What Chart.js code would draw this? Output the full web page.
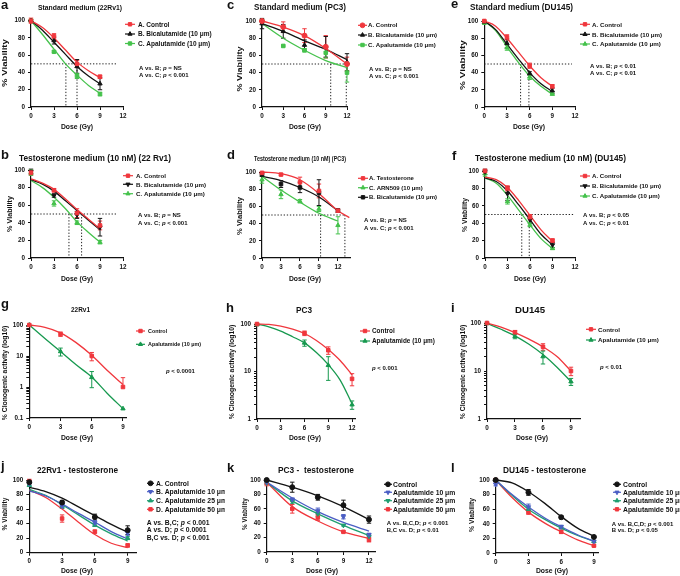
<!DOCTYPE html>
<html><head><meta charset="utf-8">
<script src="https://cdn.jsdelivr.net/npm/chart.js@4.4.1/dist/chart.umd.min.js"></script>
<style>
html,body{margin:0;padding:0;background:#fff;}
#fig{position:relative;width:680px;height:576px;overflow:hidden;background:#fff;}
#fig canvas{position:absolute;}
</style></head><body><div id="fig"></div>
<script>
// ---------- shared axis values ----------
const dose9 = [0, 3, 6, 9];
const dose12 = [0, 3, 6, 9, 12];
const doseH = [0, 6, 9, 12];
const fitX9 = [0, 1.5, 3, 4.5, 6, 7.5, 9];
const fitX12 = [0, 3, 6, 9, 12];
const fitX12h = [0, 1.5, 3, 4.5, 6, 7.5, 9, 10.5, 12];
const fitXdRed = [0, 3, 6, 9, 12, 13.8];
const ticks9 = [0, 3, 6, 9];
const ticks12 = [0, 3, 6, 9, 12];
const ticksV = [0, 20, 40, 60, 80, 100];
const decadesG = [0.1, 1, 10, 100];
const decadesHI = [1, 10, 100];

// ---------- a: Standard medium (22Rv1) ----------
const a_ctrl = [100, 82, 50, 35], a_ctrl_err = [3, 3, 4, 2];
const a_bica = [100, 77, 47, 27], a_bica_err = [1, 4, 8, 7];
const a_apal = [100, 64, 36, 15], a_apal_err = [1, 1, 3, 2];
const a_ctrl_fit = [100, 92, 80, 66, 52, 42, 34];
const a_bica_fit = [100, 89, 75, 61, 47, 36, 27];
const a_apal_fit = [100, 84, 67, 50, 37, 25, 16];
const a_ic50 = [4.55, 6.0];

// ---------- b: Testosterone medium (22Rv1) ----------
const b_ctrl = [97, 77, 51, 37], b_ctrl_err = [3, 2, 5, 5];
const b_bica = [98, 71, 49, 35], b_bica_err = [3, 2, 4, 10];
const b_apal = [97, 62, 40, 18], b_apal_err = [3, 3, 2, 2];
const b_ctrl_fit = [90, 85, 78, 67, 55, 44, 33];
const b_bica_fit = [89, 84, 76, 65, 54, 43, 32];
const b_apal_fit = [88, 80, 69, 56, 41, 29, 18];
const b_ic50 = [4.95, 6.6];

// ---------- c: Standard medium (PC3) ----------
const c_ctrl = [100, 93, 83, 70, 50], c_ctrl_err = [1, 6, 8, 13, 8];
const c_bica = [97, 88, 72, 70, 52], c_bica_err = [6, 8, 6, 12, 10];
const c_apal = [100, 71, 66, 63, 40], c_apal_err = [1, 1, 2, 6, 11];
const c_ctrl_fit = [100, 93, 83, 68, 50];
const c_bica_fit = [97, 88, 77, 67, 55];
const c_apal_fit = [97, 80, 66, 54, 46];
const c_ic50 = [9.7, 11.9];

// ---------- d: Testosterone medium (PC3) ----------
const d_ctrl = [99, 97, 88, 78, 55], d_ctrl_err = [1, 1, 6, 8, 2];
const d_arn = [91, 74, 66, 57, 38], d_arn_err = [4, 5, 2, 3, 10];
const d_bica = [97, 86, 82, 76, 55], d_bica_err = [2, 4, 6, 15, 2];
const d_ctrl_fit = [100, 98, 91, 75, 55, 47];
const d_arn_fit = [95, 79, 65, 52, 43];
const d_bica_fit = [95, 90, 82, 71, 55];
const d_ic50 = [9.26, 13.1];

// ---------- e: Standard medium (DU145) ----------
const e_ctrl = [100, 81, 48, 24], e_ctrl_err = [1, 3, 3, 2];
const e_bica = [99, 74, 39, 19], e_bica_err = [1, 5, 2, 3];
const e_apal = [98, 69, 35, 15], e_apal_err = [2, 3, 3, 1];
const e_ctrl_fit = [100, 94, 80, 64, 48, 34, 24];
const e_bica_fit = [100, 90, 73, 56, 40, 27, 18];
const e_apal_fit = [100, 89, 70, 52, 36, 24, 15];
const e_ic50 = [4.8, 5.9];

// ---------- f: Testosterone medium (DU145) ----------
const f_ctrl = [100, 80, 47, 20], f_ctrl_err = [2, 3, 3, 2];
const f_bica = [99, 74, 44, 15], f_bica_err = [3, 8, 4, 3];
const f_apal = [97, 65, 38, 11], f_apal_err = [3, 3, 2, 1];
const f_ctrl_fit = [93, 90, 81, 66, 49, 32, 19];
const f_bica_fit = [92, 88, 77, 61, 44, 27, 15];
const f_apal_fit = [92, 86, 72, 55, 38, 22, 11];
const f_ic50 = [4.9, 5.9];

// ---------- g: clonogenic 22Rv1 ----------
const g_ctrl = [100, 51, 10, 1], g_ctrl_err = [0, 8, 3, 1];
const g_apal = [100, 14, 2.05, 0.2], g_apal_err = [0, 4, 1.1, 0];
const g_ctrl_fit = [100, 84, 56, 27, 10.5, 3.4, 1.2];
const g_apal_fit = [100, 37, 14, 5.2, 2.1, 0.62, 0.2];

// ---------- h: clonogenic PC3 ----------
const h_ctrl = [100, 64, 28, 7], h_ctrl_err = [3, 7, 5, 2];
const h_apal = [97, 40, 13.5, 2], h_apal_err = [2, 6, 7, 0.4];
const h_ctrl_fit = [100, 98, 90, 78, 63, 45, 29, 17, 8.5];
const h_apal_fit = [100, 87, 71, 54, 40, 25, 14, 6.6, 2.1];

// ---------- i: clonogenic DU145 ----------
const i_ctrl = [100, 64, 32, 10], i_ctrl_err = [3, 6, 5, 2];
const i_apal = [98, 53, 20, 6], i_apal_err = [2, 6, 6, 1];
const i_ctrl_fit = [100, 82, 63, 46, 32, 20, 10];
const i_apal_fit = [98, 74, 54, 36, 22, 12, 6];

// ---------- j: 22Rv1 - testosterone ----------
const j_ctrl = [97, 69, 49, 31], j_ctrl_err = [2, 3, 4, 6];
const j_a10 = [95, 64, 41, 27], j_a10_err = [2, 3, 3, 3];
const j_a25 = [93, 64, 38, 20], j_a25_err = [2, 3, 2, 2];
const j_a50 = [98, 47, 29, 10], j_a50_err = [3, 5, 2, 2];
const j_ctrl_fit = [90, 84, 75, 63, 51, 39, 28];
const j_a10_fit = [85, 78, 67, 54, 42, 29, 19];
const j_a25_fit = [87, 79, 66, 52, 38, 26, 16];
const j_a50_fit = [86, 76, 60, 42, 25, 13, 7];

// ---------- k: PC3 - testosterone ----------
const k_ctrl = [100, 90, 76, 65, 45], k_ctrl_err = [1, 7, 4, 7, 5];
const k_a10 = [97, 73, 57, 49, 24], k_a10_err = [2, 2, 4, 3, 2];
const k_a25 = [96, 70, 53, 37, 22], k_a25_err = [2, 3, 3, 1, 1];
const k_a50 = [96, 60, 48, 28, 17], k_a50_err = [4, 6, 4, 1, 3];
const k_ctrl_fit = [100, 90, 78, 63, 45];
const k_a10_fit = [97, 75, 56, 41, 29];
const k_a25_fit = [97, 71, 53, 37, 23];
const k_a50_fit = [97, 63, 43, 28, 19];

// ---------- l: DU145 - testosterone ----------
const l_ctrl = [100, 83, 49, 22], l_ctrl_err = [1, 4, 2, 1];
const l_a10 = [94, 63, 36, 16], l_a10_err = [2, 4, 2, 1];
const l_a25 = [100, 60, 35, 16], l_a25_err = [1, 2, 2, 1];
const l_a50 = [100, 56, 29, 10], l_a50_err = [2, 3, 2, 1];
const l_ctrl_fit = [100, 96, 84, 68, 50, 34, 23];
const l_a10_fit = [100, 80, 63, 48, 36, 25, 16];
const l_a25_fit = [100, 79, 60, 46, 34, 24, 16];
const l_a50_fit = [100, 76, 56, 41, 29, 18, 10];

// ---------- labels ----------
const legABC = ['A. Control', 'B. Bicalutamide (10 \u03bcm)', 'C. Apalutamide (10 \u03bcm)'];
const legD = ['A. Testosterone', 'C. ARN509 (10 \u03bcm)', 'B. Bicalutamide (10 \u03bcm)'];
const legClono = ['Control', 'Apalutamide (10 \u03bcm)'];
const legJ = ['A. Control', 'B. Apalutamide 10 \u03bcm', 'C. Apalutamide 25 \u03bcm', 'D. Apalutamide 50 \u03bcm'];
const legKL = ['Control', 'Apalutamide 10 \u03bcm', 'Apalutamide 25 \u03bcm', 'Apalutamide 50 \u03bcm'];

// ---------- styling ----------
const FONT = '"Liberation Sans", Arial, Helvetica, sans-serif';
const RED = '#f0373d', GRN = '#45c24c', DGRN = '#17994f', TGRN = '#1f9e70', BLUE = '#4b5ec4', BLK = '#141414';

function S(label, color, style, rot, x, y, err, fx, fy) { return {label, color, style, rot, x, y, err, fx, fy}; }

const panels = [
 {id:'a', box:[0,0,225,135], area:[31,20.7,123,107], xmax:12, xticks:ticks12,
  letter:{t:'a',x:1,y:8.5}, title:{t:'Standard medium (22Rv1)',x:38,y:9.8,w:84,size:8},
  ylab:{t:'% Viability',x:5,y:63,size:9.6,sx:0.8}, xlab:{x:77,y:129},
  legend:{x:125,len:10,tx:138,ys:[24.3,34,43.5],size:6.5},
  annot:{x:139,ys:[70,77],size:6,lines:['A vs. B; *p* = NS','A vs. C; *p* < 0.001']},
  guide:{end:11.2,xs:a_ic50},
  series:[S(legABC[0],RED,'rect',0,dose9,a_ctrl,a_ctrl_err,fitX9,a_ctrl_fit),
          S(legABC[1],BLK,'triangle',0,dose9,a_bica,a_bica_err,fitX9,a_bica_fit),
          S(legABC[2],GRN,'rect',0,dose9,a_apal,a_apal_err,fitX9,a_apal_fit)]},
 {id:'b', box:[0,135,225,150], area:[31,170,123,258], xmax:12, xticks:ticks12,
  letter:{t:'b',x:1,y:159}, title:{t:'Testosterone medium (10 nM) (22 Rv1)',x:19,y:160.5,w:152,size:8.5},
  ylab:{t:'% Viability',x:10,y:214,size:7.2,sx:1}, xlab:{x:77,y:281},
  legend:{x:123,len:10,tx:136,ys:[175.7,184.3,193.7],size:6.2},
  annot:{x:138,ys:[217,224.5],size:6,lines:['A vs. B; *p* = NS','A vs. C; *p* < 0.001']},
  guide:{end:11.2,xs:b_ic50},
  series:[S(legABC[0],RED,'rect',0,dose9,b_ctrl,b_ctrl_err,fitX9,b_ctrl_fit),
          S(legABC[1],BLK,'triangle',180,dose9,b_bica,b_bica_err,fitX9,b_bica_fit),
          S(legABC[2],GRN,'triangle',0,dose9,b_apal,b_apal_err,fitX9,b_apal_fit)]},
 {id:'c', box:[225,0,225,135], area:[262,21,347,107], xmax:12, xticks:ticks12,
  letter:{t:'c',x:227,y:8.5}, title:{t:'Standard medium (PC3)',x:254,y:10,w:92,size:8.2},
  ylab:{t:'% Viability',x:240,y:69,size:9,sx:0.8}, xlab:{x:305,y:129},
  legend:{x:358,len:9,tx:368,ys:[25.3,35,45],size:6.1},
  annot:{x:369,ys:[71,78],size:6,lines:['A vs. B; *p* = NS','A vs. C; *p* < 0.001']},
  guide:{end:11.7,xs:c_ic50},
  series:[S(legABC[0],RED,'circle',0,dose12,c_ctrl,c_ctrl_err,fitX12,c_ctrl_fit),
          S(legABC[1],BLK,'triangle',0,dose12,c_bica,c_bica_err,fitX12,c_bica_fit),
          S(legABC[2],GRN,'rect',0,dose12,c_apal,c_apal_err,fitX12,c_apal_fit)]},
 {id:'d', box:[225,135,225,150], area:[262,172,350.6,258], xmax:14, xticks:ticks12,
  letter:{t:'d',x:227,y:159}, title:{t:'Testosterone medium (10 nM) (PC3)',x:254,y:160.5,w:92,size:6.6},
  ylab:{t:'% Viability',x:240,y:216,size:7.6,sx:1}, xlab:{x:305,y:281},
  legend:{x:358,len:10,tx:369,ys:[178.3,187.7,197.3],size:6.0},
  annot:{x:364,ys:[222,229.7],size:6,lines:['A vs. B; *p* = NS','A vs. C; *p* < 0.001']},
  guide:{end:13.1,xs:d_ic50},
  series:[S(legD[0],RED,'rect',0,dose12,d_ctrl,d_ctrl_err,fitXdRed,d_ctrl_fit),
          S(legD[1],GRN,'triangle',0,dose12,d_arn,d_arn_err,fitX12,d_arn_fit),
          S(legD[2],BLK,'rect',0,dose12,d_bica,d_bica_err,fitX12,d_bica_fit)]},
 {id:'e', box:[450,0,230,135], area:[484.3,21,575,107], xmax:12, xticks:ticks12,
  letter:{t:'e',x:451,y:7.5}, title:{t:'Standard medium (DU145)',x:470,y:10,w:103,size:8.5},
  ylab:{t:'% Viability',x:463,y:65,size:10,sx:0.75}, xlab:{x:529,y:129},
  legend:{x:580,len:10,tx:592,ys:[24.3,34.3,44],size:6.2},
  annot:{x:590,ys:[68,75],size:6,lines:['A vs. B; *p* < 0.01','A vs. C; *p* < 0.01']},
  guide:{end:11.6,xs:e_ic50},
  series:[S(legABC[0],RED,'rect',0,dose9,e_ctrl,e_ctrl_err,fitX9,e_ctrl_fit),
          S(legABC[1],BLK,'triangle',0,dose9,e_bica,e_bica_err,fitX9,e_bica_fit),
          S(legABC[2],GRN,'triangle',0,dose9,e_apal,e_apal_err,fitX9,e_apal_fit)]},
 {id:'f', box:[450,135,230,150], area:[485,171,575,258], xmax:12, xticks:ticks12,
  letter:{t:'f',x:452,y:160}, title:{t:'Testosterone medium (10 nM) (DU145)',x:475,y:160.5,w:151,size:8.3},
  ylab:{t:'% Viability',x:465,y:215,size:6.8,sx:1}, xlab:{x:530,y:281},
  legend:{x:580,len:10,tx:592,ys:[176,186,196],size:6.1},
  annot:{x:583,ys:[217,225],size:6,lines:['A vs. B; *p* < 0.05','A vs. C; *p* < 0.01']},
  guide:{end:11.8,xs:f_ic50},
  series:[S(legABC[0],RED,'rect',0,dose9,f_ctrl,f_ctrl_err,fitX9,f_ctrl_fit),
          S(legABC[1],BLK,'triangle',180,dose9,f_bica,f_bica_err,fitX9,f_bica_fit),
          S(legABC[2],GRN,'triangle',0,dose9,f_apal,f_apal_err,fitX9,f_apal_fit)]},
 {id:'g', box:[0,285,225,160], area:[29.3,325,126.1,418], xmax:9.3, xticks:ticks9, log:decadesG,
  letter:{t:'g',x:1,y:308}, title:{t:'22Rv1',x:71,y:312,w:19,size:7.2},
  ylab:{t:'% Clonogenic activity (log10)',x:5,y:373,size:6.8,sx:1}, xlab:{x:77,y:440},
  legend:{x:136,len:9,tx:148,ys:[331,344.3],size:5.4},
  annot:{x:166,ys:[373],size:6,lines:['*p* < 0.0001']},
  series:[S(legClono[0],RED,'rect',0,dose9,g_ctrl,g_ctrl_err,fitX9,g_ctrl_fit),
          S(legClono[1],DGRN,'triangle',0,dose9,g_apal,g_apal_err,fitX9,g_apal_fit)]},
 {id:'h', box:[225,285,225,160], area:[257,324,355.2,419], xmax:12.4, xticks:ticks12, log:decadesHI,
  letter:{t:'h',x:226,y:311.5}, title:{t:'PC3',x:296,y:313,w:16,size:8.3},
  ylab:{t:'% Clonogenic activity (log10)',x:232,y:372,size:6.8,sx:1}, xlab:{x:305,y:440},
  legend:{x:360,len:10,tx:372,ys:[331,341],size:6.4},
  annot:{x:372,ys:[369.5],size:6,lines:['*p* < 0.001']},
  series:[S(legClono[0],RED,'rect',0,doseH,h_ctrl,h_ctrl_err,fitX12h,h_ctrl_fit),
          S(legClono[1],DGRN,'triangle',0,doseH,h_apal,h_apal_err,fitX12h,h_apal_fit)]},
 {id:'i', box:[450,285,230,160], area:[487,323,580.3,419], xmax:10, xticks:ticks9, log:decadesHI,
  letter:{t:'i',x:451,y:311.5}, title:{t:'DU145',x:515,y:313,w:30,size:9},
  ylab:{t:'% Clonogenic activity (log10)',x:463,y:372,size:6.8,sx:1}, xlab:{x:532,y:440},
  legend:{x:586,len:10,tx:598,ys:[329.3,340],size:6.2},
  annot:{x:600,ys:[369],size:6,lines:['*p* < 0.01']},
  series:[S(legClono[0],RED,'rect',0,dose9,i_ctrl,i_ctrl_err,fitX9,i_ctrl_fit),
          S(legClono[1],DGRN,'triangle',0,dose9,i_apal,i_apal_err,fitX9,i_apal_fit)]},
 {id:'j', box:[0,445,225,131], area:[29.3,480,136.4,552.7], xmax:9.8, xticks:ticks9,
  letter:{t:'j',x:1,y:470}, title:{t:'22Rv1 - testosterone',x:37,y:473,w:81,size:8.3},
  ylab:{t:'% Viability',x:5,y:514,size:6.6,sx:1}, xlab:{x:77,y:573},
  legend:{x:147,len:7,tx:156,ys:[483.3,491.7,500.7,509.3],size:6.8},
  annot:{x:146.7,ys:[525,532,539.5],size:6.8,lines:['A vs. B,C; *p* < 0.001','A vs. D; *p* < 0.0001','B,C vs. D; *p* < 0.001']},
  series:[S(legJ[0],BLK,'circle',0,dose9,j_ctrl,j_ctrl_err,fitX9,j_ctrl_fit),
          S(legJ[1],BLUE,'triangle',180,dose9,j_a10,j_a10_err,fitX9,j_a10_fit),
          S(legJ[2],TGRN,'triangle',0,dose9,j_a25,j_a25_err,fitX9,j_a25_fit),
          S(legJ[3],RED,'rect',0,dose9,j_a50,j_a50_err,fitX9,j_a50_fit)]},
 {id:'k', box:[225,445,235,131], area:[266.7,480,375.8,552], xmax:12.8, xticks:ticks12,
  letter:{t:'k',x:227,y:471.5}, title:{t:'PC3 -  testosterone',x:278,y:473,w:76,size:8.3},
  ylab:{t:'% Viability',x:245,y:514,size:6.4,sx:1}, xlab:{x:322,y:573},
  legend:{x:384,len:8,tx:393,ys:[484.3,492.3,500.7,509.3],size:6.8},
  annot:{x:386.7,ys:[525,532],size:6,lines:['A vs. B,C,D; *p* < 0.001','B,C vs. D; *p* < 0.01']},
  series:[S(legKL[0],BLK,'circle',0,dose12,k_ctrl,k_ctrl_err,fitX12,k_ctrl_fit),
          S(legKL[1],BLUE,'triangle',180,dose12,k_a10,k_a10_err,fitX12,k_a10_fit),
          S(legKL[2],TGRN,'triangle',180,dose12,k_a25,k_a25_err,fitX12,k_a25_fit),
          S(legKL[3],RED,'rect',0,dose12,k_a50,k_a50_err,fitX12,k_a50_fit)]},
 {id:'l', box:[450,445,230,131], area:[495.7,480,598.3,553], xmax:9.4, xticks:ticks9,
  letter:{t:'l',x:451,y:471.5}, title:{t:'DU145 - testosterone',x:503,y:473,w:83,size:8.3},
  ylab:{t:'% Viability',x:472,y:515,size:6.8,sx:1}, xlab:{x:552,y:573},
  legend:{x:613,len:8,tx:623,ys:[484.3,492.3,500.7,509.3],size:6.8},
  annot:{x:611.7,ys:[525.5,532],size:6,lines:['A vs. B,C,D; *p* < 0.001','B vs. D; *p* < 0.05']},
  series:[S(legKL[0],BLK,'circle',0,dose9,l_ctrl,l_ctrl_err,fitX9,l_ctrl_fit),
          S(legKL[1],BLUE,'triangle',180,dose9,l_a10,l_a10_err,fitX9,l_a10_fit),
          S(legKL[2],TGRN,'triangle',0,dose9,l_a25,l_a25_err,fitX9,l_a25_fit),
          S(legKL[3],RED,'rect',0,dose9,l_a50,l_a50_err,fitX9,l_a50_fit)]}
];

// ---------- drawing helpers ----------
function fnt(size, style) { return (style ? style + ' ' : '') + 'bold ' + size + 'px ' + FONT; }
function drawT(ctx, s, x, y, size, o) {
  o = o || {};
  ctx.save();
  ctx.font = fnt(size);
  ctx.fillStyle = '#111';
  ctx.textBaseline = 'alphabetic';
  ctx.textAlign = 'left';
  const mw = ctx.measureText(s).width;
  let sx = o.sx || 1;
  if (o.w) sx = o.w / mw;
  let x0 = x;
  if (o.center) x0 = x - mw * sx / 2;
  ctx.translate(x0, y); ctx.scale(sx, 1);
  ctx.fillText(s, 0, 0);
  ctx.restore();
}
function drawRich(ctx, s, x, y, size) {
  ctx.save(); ctx.fillStyle = '#111'; ctx.textBaseline = 'alphabetic'; ctx.textAlign = 'left';
  let cx = x;
  s.split('*').forEach((t, k) => {
    if (!t) return;
    ctx.font = fnt(size, k % 2 ? 'italic' : '');
    ctx.fillText(t, cx, y);
    cx += ctx.measureText(t).width;
  });
  ctx.restore();
}
function marker(ctx, style, rot, r, x, y, color) {
  ctx.save(); ctx.fillStyle = color; ctx.strokeStyle = color;
  if (Chart.helpers && Chart.helpers.drawPoint) {
    Chart.helpers.drawPoint(ctx, {pointStyle: style, rotation: rot, radius: r, borderWidth: 1}, x, y);
  } else { ctx.fillRect(x - r, y - r, 2 * r, 2 * r); }
  ctx.restore();
}

function makePlugin(p) {
  const ox = p.box[0], oy = p.box[1];
  return {
    id: 'panel_' + p.id,
    beforeDatasetsDraw(chart) {
      const ctx = chart.ctx, xs = chart.scales.x, ys = chart.scales.y;
      if (p.guide) {
        ctx.save(); ctx.strokeStyle = '#222'; ctx.lineWidth = 1; ctx.setLineDash([1.3, 1.8]);
        const yg = ys.getPixelForValue(50), y0 = ys.getPixelForValue(0);
        ctx.beginPath();
        ctx.moveTo(xs.getPixelForValue(0), yg); ctx.lineTo(xs.getPixelForValue(p.guide.end), yg);
        p.guide.xs.forEach(v => { const xg = xs.getPixelForValue(v); ctx.moveTo(xg, yg); ctx.lineTo(xg, y0); });
        ctx.stroke(); ctx.restore();
      }
      p.series.forEach(s => {
        ctx.save(); ctx.strokeStyle = s.color; ctx.lineWidth = 1; ctx.beginPath();
        s.x.forEach((xv, i) => {
          const e = s.err[i]; if (!e) return;
          const v = s.y[i];
          const px = xs.getPixelForValue(xv);
          const hi = ys.getPixelForValue(v + e);
          const hasLo = !(p.log && v - e <= 0);
          const lo = hasLo ? ys.getPixelForValue(v - e) : ys.getPixelForValue(v);
          ctx.moveTo(px, hi); ctx.lineTo(px, lo);
          ctx.moveTo(px - 2.2, hi); ctx.lineTo(px + 2.2, hi);
          if (hasLo) { ctx.moveTo(px - 2.2, lo); ctx.lineTo(px + 2.2, lo); }
        });
        ctx.stroke(); ctx.restore();
      });
    },
    afterDraw(chart) {
      const ctx = chart.ctx;
      drawT(ctx, p.letter.t, p.letter.x - ox, p.letter.y - oy, 13);
      drawT(ctx, p.title.t, p.title.x - ox, p.title.y - oy, p.title.size, {w: p.title.w});
      // y label (rotated)
      ctx.save();
      ctx.translate(p.ylab.x - ox, p.ylab.y - oy); ctx.scale(p.ylab.sx, 1); ctx.rotate(-Math.PI / 2);
      ctx.font = fnt(p.ylab.size); ctx.fillStyle = '#111'; ctx.textAlign = 'center'; ctx.textBaseline = 'middle';
      ctx.fillText(p.ylab.t, 0, 0); ctx.restore();
      drawT(ctx, 'Dose (Gy)', p.xlab.x - ox, p.xlab.y - oy, 6.8, {center: true});
      // legend
      const L = p.legend;
      p.series.forEach((s, i) => {
        const y = L.ys[i] - oy, x = L.x - ox;
        ctx.save(); ctx.strokeStyle = s.color; ctx.lineWidth = 1.2;
        ctx.beginPath(); ctx.moveTo(x, y); ctx.lineTo(x + L.len, y); ctx.stroke(); ctx.restore();
        marker(ctx, s.style, s.rot, 2.4, x + L.len / 2, y, s.color);
        drawT(ctx, s.label, L.tx - ox, y + L.size * 0.36, L.size);
      });
      // annotations
      p.annot.lines.forEach((t, i) => drawRich(ctx, t, p.annot.x - ox, p.annot.ys[i] - oy, p.annot.size));
    }
  };
}

function makePanel(p) {
  const [bx, by, bw, bh] = p.box;
  const [l, t, r, b] = p.area;
  const yW = 24, xH = 14;
  const cv = document.createElement('canvas');
  cv.width = bw; cv.height = bh;
  cv.style.left = bx + 'px'; cv.style.top = by + 'px';
  cv.style.width = bw + 'px'; cv.style.height = bh + 'px';
  document.getElementById('fig').appendChild(cv);

  const datasets = [];
  p.series.forEach(s => {
    datasets.push({
      data: s.x.map((x, i) => ({x: x, y: s.y[i]})),
      showLine: false, pointStyle: s.style, pointRotation: s.rot, pointRadius: 2.5,
      backgroundColor: s.color, borderColor: s.color, pointBorderWidth: 1, clip: false
    });
  });
  p.series.forEach(s => {
    datasets.push({
      data: s.fx.map((x, i) => ({x: x, y: s.fy[i]})),
      showLine: true, borderColor: s.color, borderWidth: 1.3, pointRadius: 0,
      cubicInterpolationMode: 'monotone', clip: false, fill: false
    });
  });

  const tickFont = {family: 'Liberation Sans', size: 6.3, weight: 'bold'};
  const grid = {display: true, drawOnChartArea: false, drawTicks: true, tickLength: 3, color: '#111', lineWidth: 1};
  const border = {display: true, color: '#111', width: 1.2};
  let yScale;
  if (p.log) {
    const dec = p.log;
    const all = [];
    dec.forEach((d, k) => { all.push(d); if (k < dec.length - 1) for (let m = 2; m <= 9; m++) all.push(+(d * m).toPrecision(3)); });
    yScale = {type: 'logarithmic', min: dec[0], max: dec[dec.length - 1],
      afterBuildTicks: sc => { sc.ticks = all.map(v => ({value: v})); },
      afterFit: sc => { sc.width = yW; },
      ticks: {autoSkip: false, font: tickFont, color: '#111', padding: 3,
        callback: v => (dec.indexOf(v) >= 0 ? String(v) : '')},
      grid: grid, border: border};
  } else {
    yScale = {type: 'linear', min: 0, max: 100,
      afterBuildTicks: sc => { sc.ticks = ticksV.map(v => ({value: v})); },
      afterFit: sc => { sc.width = yW; },
      ticks: {autoSkip: false, font: tickFont, color: '#111', padding: 3, callback: v => String(v)},
      grid: grid, border: border};
  }
  new Chart(cv, {
    type: 'scatter',
    data: {datasets: datasets},
    options: {
      responsive: false, animation: false, devicePixelRatio: 1,
      layout: {padding: {left: l - bx - yW, top: t - by, right: bx + bw - r, bottom: by + bh - b - xH}},
      plugins: {legend: {display: false}, tooltip: {enabled: false}, title: {display: false}},
      scales: {
        x: {type: 'linear', min: 0, max: p.xmax,
          afterBuildTicks: sc => { sc.ticks = p.xticks.map(v => ({value: v})); },
          afterFit: sc => { sc.height = xH; },
          ticks: {autoSkip: false, maxRotation: 0, font: tickFont, color: '#111', padding: 2, callback: v => String(v)},
          grid: grid, border: border},
        y: yScale
      }
    },
    plugins: [makePlugin(p)]
  });
}

panels.forEach(makePanel);
</script>
</body></html>
